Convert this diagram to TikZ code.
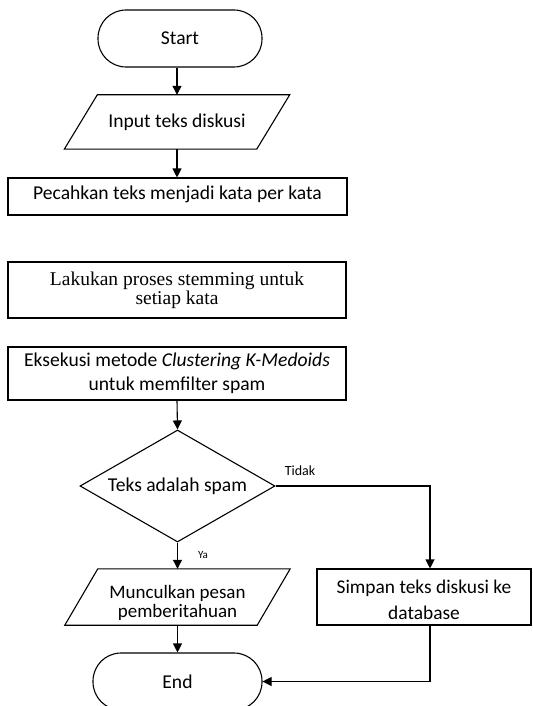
\documentclass[tikz,border=0pt]{standalone}
\usepackage{fontspec}
\setmainfont{Carlito}
\newfontfamily\serifbox{Liberation Serif}
\usetikzlibrary{shapes.geometric,arrows.meta}
\newcommand{\shifttext}[2]{\raisebox{#1}[\height][\depth]{\begin{tabular}{@{}c@{}}#2\end{tabular}}}
\begin{document}
\begin{tikzpicture}[x=1bp,y=-1bp,
  every node/.style={font=\fontsize{19.6bp}{21bp}\selectfont, align=center, inner sep=0pt},
  shp/.style={draw, line width=1.1bp},
  term/.style={shp, rectangle, rounded corners=28bp, minimum height=57bp},
  iobody/.style={rectangle, minimum width=192bp},
  proc/.style={shp, rectangle},
  decis/.style={shp, diamond, aspect=1.74, minimum width=195bp, minimum height=112bp},
  arr/.style={line width=1.1bp, -{Triangle[width=9bp,length=9bp]}},
  lbl/.style={font=\fontsize{14bp}{16bp}\selectfont}]
\useasboundingbox (0,0) rectangle (533,706);
\node[term, minimum width=164bp] (start) at (180,38.5) {Start};
\node[iobody, minimum height=54bp] (input) at (177,122) {Input teks diskusi};
\draw[shp] ([xshift=-16.5bp]input.south west) -- ([xshift=16.5bp]input.north west)
  -- ([xshift=16.5bp]input.north east) -- ([xshift=-16.5bp]input.south east) -- cycle;
\node[proc, minimum width=339bp, minimum height=37bp] (pecah) at (177.5,196.5) {\shifttext{1.5bp}{Pecahkan teks menjadi kata per kata}};
\node[proc, minimum width=338bp, minimum height=56bp, font=\serifbox\fontsize{19.5bp}{20bp}\selectfont] (lakukan) at (177,290) {\shifttext{-1bp}{Lakukan proses stemming untuk\\[-1bp]setiap kata}};
\node[proc, minimum width=338bp, minimum height=53bp, font=\fontsize{19.6bp}{21bp}\selectfont] (eksekusi) at (177,373.5) {Eksekusi metode \textit{Clustering K-Medoids}\\[3bp]untuk memfilter spam};
\node[decis] (dec) at (177.5,486) {Teks adalah spam};
\node[iobody, minimum height=56bp, font=\fontsize{19bp}{21bp}\selectfont] (muncul) at (177.5,597) {\shifttext{-6.5bp}{Munculkan pesan\\[-2bp]pemberitahuan}};
\draw[shp] ([xshift=-16.5bp]muncul.south west) -- ([xshift=16.5bp]muncul.north west)
  -- ([xshift=16.5bp]muncul.north east) -- ([xshift=-16.5bp]muncul.south east) -- cycle;
\node[proc, minimum width=214bp, minimum height=56bp, font=\fontsize{19.4bp}{21bp}\selectfont] (simpan) at (424,597) {\shifttext{-5bp}{Simpan teks diskusi ke\\[5bp]database}};
\node[term, minimum width=169bp, minimum height=57bp] (end) at (177.5,681.5) {End};
\node[lbl] (tidak) at (300,471) {Tidak};
\node[font=\fontsize{11bp}{12bp}\selectfont] (ya) at (203,555) {Ya};
\coordinate (t1) at (430,486);
\coordinate (t2) at (430,681.5);
\draw[arr] (input.north |- start.south) -- (input.north);
\draw[arr] (input.south) -- (pecah.north -| input.south);
\draw[arr] (eksekusi.south) -- (dec.north);
\draw[arr] (dec.south) -- (muncul.north);
\draw[arr] (muncul.south) -- (end.north);
\draw[arr] (dec.east) -- (t1) -- (t1 |- simpan.north);
\draw[arr] (t2 |- simpan.south) -- (t2) -- (end.east);
\end{tikzpicture}
\end{document}
